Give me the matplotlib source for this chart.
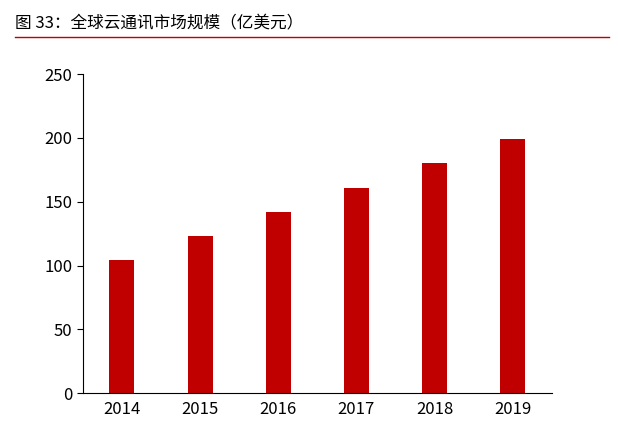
import matplotlib
matplotlib.use("Agg")
import matplotlib.pyplot as plt

plt.rcParams["font.family"] = ["Noto Sans CJK SC"]

years = ["2014", "2015", "2016", "2017", "2018", "2019"]
market = [104, 123, 142, 161, 180, 199]

fig = plt.figure(figsize=(6.18, 4.33), dpi=100)
ax = fig.add_axes([0.134, 0.092, 0.759, 0.737])

ax.bar(range(len(years)), market, width=0.32, color="#c00000")
ax.set_xlim(-0.5, len(years) - 0.5)
ax.set_ylim(0, 250)
ax.set_yticks(range(0, 251, 50))
ax.set_xticks(range(len(years)))
ax.set_xticklabels(years)
ax.tick_params(axis="x", length=0, labelsize=12, pad=6)
ax.tick_params(axis="y", direction="out", length=4, labelsize=12)
for s in ["top", "right"]:
    ax.spines[s].set_visible(False)

fig.text(0.025, 0.945, "图 33：全球云通讯市场规模（亿美元）", fontsize=12, va="center")
fig.add_artist(plt.Line2D([0.025, 0.985], [0.915, 0.915], color="#c00000", lw=1))

fig.savefig("out.png", dpi=100)
